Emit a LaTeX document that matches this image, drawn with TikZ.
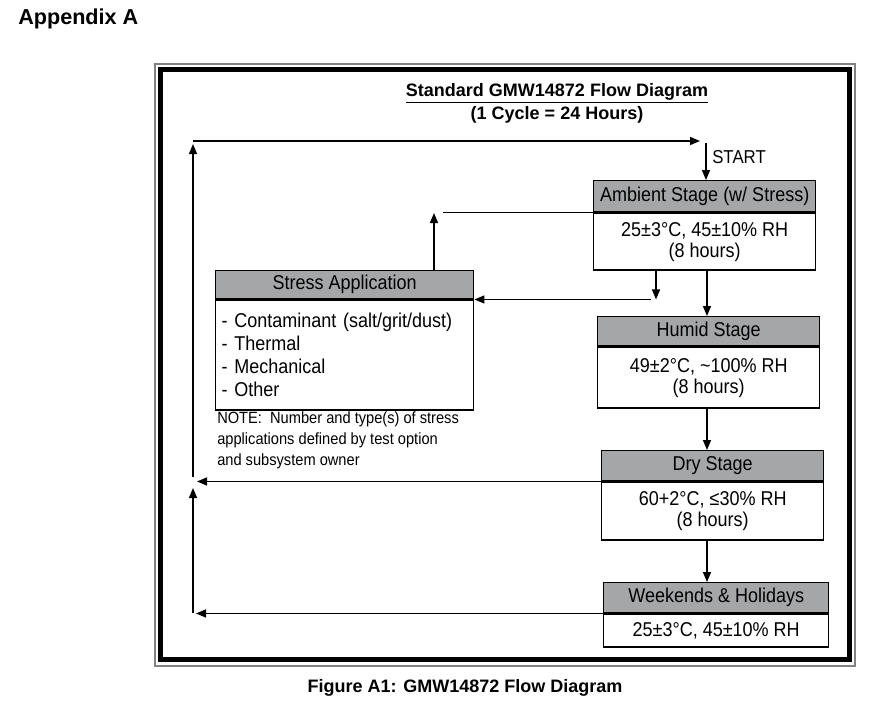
\documentclass[tikz,border=0pt]{standalone}
\usepackage{fontspec}
\setmainfont{Liberation Sans}
\newfontfamily\nfont[FakeStretch=0.9]{Liberation Sans}
\usetikzlibrary{arrows.meta}
\definecolor{hdrgray}{RGB}{165,166,168}
\definecolor{framegray}{RGB}{130,130,130}
\begin{document}
\begin{tikzpicture}[x=0.75pt,y=-0.75pt,
  boxfont/.style={font=\nfont\fontsize{15}{15.75}\selectfont},
  hdr/.style={draw, line width=1.1pt, fill=hdrgray, anchor=north west, inner sep=0pt, boxfont},
  body/.style={draw, line width=1.1pt, fill=white, anchor=north west, inner sep=0pt, align=center, boxfont},
  arr/.style={line width=1.1pt, -{Triangle[length=7.5pt,width=6pt]}},
  ln/.style={line width=1.1pt}]
\useasboundingbox[fill=white] (0,0) rectangle (874,718);

% frame
\draw[line width=1.2pt, framegray] (155,64) rectangle (855,666);
\draw[line width=3.8pt] (160.5,69.5) rectangle (849.5,659.5);

% headings
\node[anchor=west, inner sep=0pt, font=\bfseries\fontsize{16.2}{18}\selectfont] (app) at (18,19) {Appendix A};
\node[align=center, inner sep=0pt, font=\bfseries\fontsize{13.5}{17.25}\selectfont] (title) at (557,103) {\underline{Standard GMW14872 Flow Diagram}\\(1 Cycle = 24 Hours)};
\node[inner sep=0pt, font=\bfseries\fontsize{13.5}{16}\selectfont] (cap) at (465,688) {Figure A1: GMW14872 Flow Diagram};

% boxes
\node[hdr, minimum width=222*0.75pt, minimum height=31*0.75pt] (ambH) at (593,180) {Ambient Stage (w/ Stress)};
\node[body, minimum width=222*0.75pt, minimum height=57*0.75pt] (ambB) at (ambH.south west) {25±3°C, 45±10\% RH\\(8 hours)};

\node[hdr, minimum width=258*0.75pt, minimum height=28*0.75pt] (stH) at (215,270) {Stress Application};
\node[body, align=left, text width=246*0.75pt, inner xsep=4.5pt, minimum height=110*0.75pt, font=\nfont\fontsize{15}{17.25}\selectfont] (stB) at (stH.south west) {- Contaminant (salt/grit/dust)\\- Thermal\\- Mechanical\\- Other};

\node[anchor=north west, align=left, inner sep=0pt, font=\nfont\fontsize{12.2}{15.75}\selectfont] (note) at (217,411) {NOTE:\ \ Number and type(s) of stress\\applications defined by test option\\and subsystem owner};

\node[hdr, minimum width=222*0.75pt, minimum height=29*0.75pt] (humH) at (597,316) {Humid Stage};
\node[body, minimum width=222*0.75pt, minimum height=61*0.75pt] (humB) at (humH.south west) {49±2°C, \textasciitilde100\% RH\\(8 hours)};

\node[hdr, minimum width=222*0.75pt, minimum height=30*0.75pt] (dryH) at (601,450) {Dry Stage};
\node[body, minimum width=222*0.75pt, minimum height=58*0.75pt] (dryB) at (dryH.south west) {60+2°C, ≤30\% RH\\(8 hours)};

\node[hdr, minimum width=225*0.75pt, minimum height=30*0.75pt] (wkH) at (603,582) {Weekends \& Holidays};
\node[body, minimum width=225*0.75pt, minimum height=33*0.75pt] (wkB) at (wkH.south west) {25±3°C, 45±10\% RH};

% start
\coordinate (st0) at (706,143);
\draw[arr] (st0) -- (st0 |- ambH.north);
\node[anchor=west, inner sep=0pt, font=\nfont\fontsize{14}{15}\selectfont] (startlbl) at (712,157) {START};

% main chain
\coordinate (cx) at (707,0);
\draw[arr] (ambB.south -| cx) -- (humH.north -| cx);
\draw[arr] (humB.south -| cx) -- (dryH.north -| cx);
\draw[arr] (dryB.south -| cx) -- (wkH.north -| cx);

% stress loop
\coordinate (s1) at (656,0);
\draw[arr] (ambB.south -| s1) -- (stH.south east -| s1);
\coordinate (s2) at (651,0);
\draw[arr] (stH.south east -| s2) -- (stH.south east);
\coordinate (s3) at (434,213);
\draw[arr] (stH.north -| s3) -- (s3);
\coordinate (s4) at (443,0);
\draw[ln] (ambH.south west -| s4) -- (ambH.south west);

% return loop
\coordinate (Wtip) at (196,0);
\coordinate (Dtip) at (197,0);
\coordinate (Lbot) at (193,613);
\coordinate (Lmid1) at (193,488);
\coordinate (Lmid2) at (193,477);
\coordinate (Ltop) at (193,144);
\coordinate (Tstart) at (193,141);
\coordinate (Ttip) at (700,141);
\draw[arr] (wkH.south west) -- (wkH.south west -| Wtip);
\draw[arr] (dryH.south west) -- (dryH.south west -| Dtip);
\draw[arr] (Lbot) -- (Lmid1);
\draw[arr] (Lmid2) -- (Ltop);
\draw[arr] (Tstart) -- (Ttip);
\end{tikzpicture}
\end{document}
